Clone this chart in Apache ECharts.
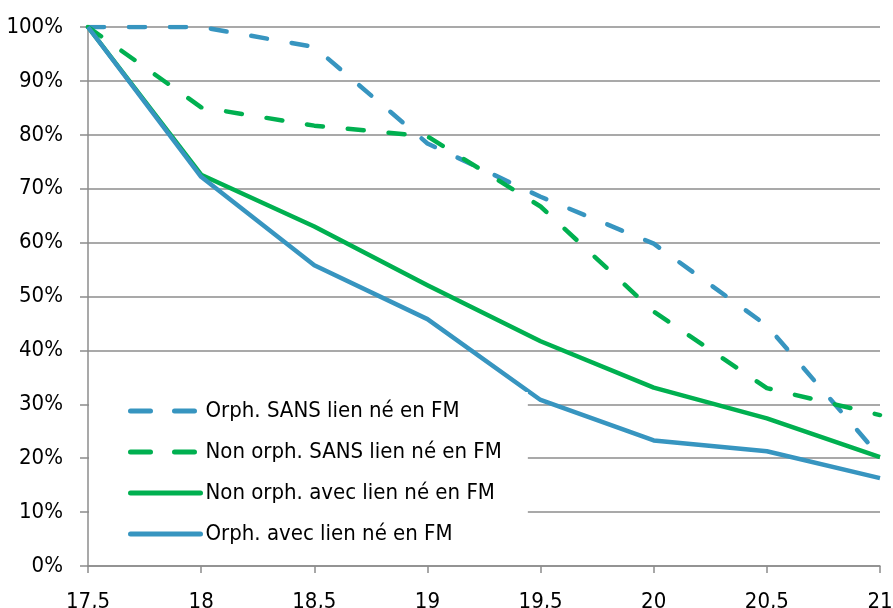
<!DOCTYPE html>
<html><head><meta charset="utf-8">
<script src="https://cdn.jsdelivr.net/npm/echarts@6/dist/echarts.min.js"></script>
<style>html,body{margin:0;padding:0;background:#fff}#c{width:893px;height:608px}</style>
</head><body><div id="c"></div>
<script>
const ages = [17.5, 18, 18.5, 19, 19.5, 20, 20.5, 21];
const orphSans = [100, 100, 96.3, 78.4, 68.5, 59.8, 44.6, 20.3];
const nonOrphSans = [100, 85.1, 81.7, 79.7, 66.7, 47.2, 33.0, 28.0];
const nonOrphAvec = [100, 72.6, 63.0, 52.1, 41.7, 33.1, 27.4, 20.2];
const orphAvec = [100, 72.2, 55.8, 45.8, 30.8, 23.3, 21.3, 16.3];
const names = ['Orph. SANS lien né en FM', 'Non orph. SANS lien né en FM', 'Non orph. avec lien né en FM', 'Orph. avec lien né en FM'];
const BLUE = '#3795C0', GREEN = '#00B050';
const font = '"Liberation Sans Narrow", "Arial Narrow", "DejaVu Sans Condensed", sans-serif';
function pts(arr){ return ages.map((a,i)=>[a, arr[i]]); }
const chart = echarts.init(document.getElementById('c'));
function ser(name, data, color, dashed){
  return {name, type:'line', data:pts(data), symbol:'none',
    lineStyle:{color, width:4.5, type: dashed ? [16,25] : 'solid', cap: dashed ? 'round' : 'butt', join:'round'},
    itemStyle:{color}};
}
const dashedLegend = {type:[20,24], width:5, cap:'round'};
const solidLegend = {type:'solid', width:5, cap:'round'};
chart.setOption({
  animation:false,
  grid:{left:88, right:13, top:27, bottom:42, containLabel:false, outerBoundsMode:'none'},
  legend:{left:89, top:392, orient:'vertical', itemGap:19, itemWidth:70, itemHeight:22,
    backgroundColor:'#fff', padding:[8,26,10,39],
    itemStyle:{opacity:0},
    data:[
      {name:names[0], lineStyle:dashedLegend},
      {name:names[1], lineStyle:dashedLegend},
      {name:names[2], lineStyle:solidLegend},
      {name:names[3], lineStyle:solidLegend}
    ],
    textStyle:{fontFamily:font, fontSize:22, color:'#000'}},
  xAxis:{type:'value', min:17.5, max:21, interval:0.5,
    axisLine:{lineStyle:{color:'#8c8c8c', width:1.5}},
    axisTick:{show:true, length:7, lineStyle:{color:'#8c8c8c', width:1.5}},
    splitLine:{show:false},
    axisLabel:{fontFamily:font, fontSize:22, color:'#000', margin:25, formatter:v=>String(v).replace('.',',')}},
  yAxis:{type:'value', min:0, max:100, interval:10,
    axisLine:{show:true, lineStyle:{color:'#8c8c8c', width:1.5}},
    axisTick:{show:true, length:8, lineStyle:{color:'#8c8c8c', width:1.5}},
    splitLine:{lineStyle:{color:'#8c8c8c', width:1.5}},
    axisLabel:{fontFamily:font, fontSize:22, color:'#000', margin:25, formatter:'{value}%'}},
  series:[
    ser(names[0], orphSans, BLUE, true),
    ser(names[1], nonOrphSans, GREEN, true),
    ser(names[2], nonOrphAvec, GREEN, false),
    ser(names[3], orphAvec, BLUE, false)
  ]
});
</script></body></html>
